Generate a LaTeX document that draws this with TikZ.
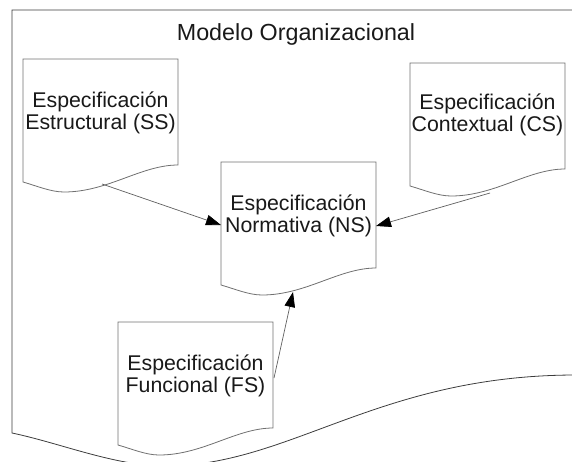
\documentclass[tikz,border=0pt]{standalone}
\usepackage{fontspec}
\setmainfont{Liberation Sans}
\usetikzlibrary{arrows.meta}
\definecolor{boxline}{RGB}{112,112,112}
\definecolor{outerline}{RGB}{60,60,60}
\definecolor{connline}{RGB}{95,95,95}
\definecolor{txt}{RGB}{25,25,25}
\newcommand\mydocshape[2]{%
  \begin{scope}[shift={(#1,#2)}]
    \draw[docline] (0,0) -- (155,0) -- (155,106)
      .. controls (118,106) and (85,133) .. (41,133)
      .. controls (28,133) and (14,127) .. (0,123) -- cycle;
  \end{scope}}
\begin{document}
\begin{tikzpicture}[x=1pt,y=-1pt,
  docline/.style={draw=boxline,fill=white,line width=0.8pt},
  doctext/.style={text=txt,align=center,inner sep=0pt,font=\fontsize{21.3}{22.5}\selectfont},
  conn/.style={draw=connline,line width=0.7pt,-{Triangle[length=15pt,width=10.5pt,color=black]}}]
\useasboundingbox (0,0) rectangle (572,461);
\clip (0,0) rectangle (572,461);
% outer document
\draw[draw=outerline,line width=0.8pt] (12,10) -- (576,10) -- (576,375)
  .. controls (378,375) and (290,466) .. (165,466)
  .. controls (115,466) and (60,443) .. (12,433) -- cycle;
\node[text=txt,anchor=base,inner sep=0pt,font=\fontsize{23.3}{26}\selectfont] (title) at (296,40) {Modelo Organizacional};
% documents
\mydocshape{23}{59}
\mydocshape{221}{162}
\mydocshape{410}{63}
\mydocshape{118}{322}
\node[doctext] (ss) at (100.5,113) {Especificación\\Estructural (SS)};
\node[doctext] (ns) at (298.5,216) {Especificación\\Normativa (NS)};
\node[doctext] (cs) at (487.5,115) {Especificación\\Contextual (CS)};
\node[doctext] (fs) at (195.5,376) {Especificación\\Funcional (FS)};
% connector ends
\coordinate (ssA) at (102,184);
\coordinate (nsL) at (221,225);
\coordinate (csA) at (490,193);
\coordinate (nsR) at (376,226);
\coordinate (fsA) at (274,378);
\coordinate (nsB) at (293,292);
\draw[conn] (ssA) -- (nsL);
\draw[conn] (csA) -- (nsR);
\draw[conn] (fsA) -- (nsB);
\end{tikzpicture}
\end{document}
